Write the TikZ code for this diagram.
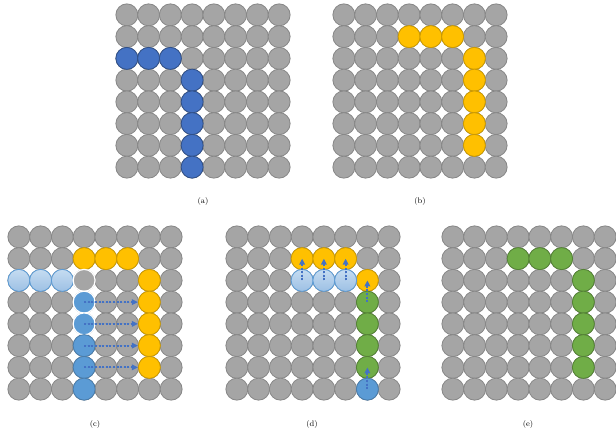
\documentclass[tikz,border=0pt]{standalone}
\usepackage{xcolor}
\usepackage{tikz}
\usetikzlibrary{arrows.meta,shapes.geometric}

\definecolor{dotgray}{HTML}{A5A5A5}
\definecolor{dotline}{HTML}{878787}
\definecolor{selblue}{HTML}{4472C4}
\definecolor{selorange}{HTML}{FFC000}
\definecolor{selgreen}{HTML}{70AD47}
\definecolor{midblue}{HTML}{5B9BD5}
\definecolor{lbtop}{HTML}{C5DCF1}
\definecolor{lbbot}{HTML}{9DC0E4}

% 8x8 grid of gray dots: name, left edge, top edge
\newcommand{\dotgrid}[3]{%
  \foreach \r in {1,...,8}
    \foreach \c in {1,...,8}
      \node[dot] (#1-\r-\c) at ({#2+(\c-0.5)*21.75},{#3+(\r-0.5)*21.75}) {};
}

\begin{document}
\begin{tikzpicture}[
  x=1pt, y=-1pt,
  dot/.style={circle, minimum size=22pt, inner sep=0pt, fill=dotgray, draw=dotline, line width=0.8pt},
  bluedot/.style={dot, fill=selblue, draw=selblue!70!black},
  orangedot/.style={dot, fill=selorange, draw=selorange!80!black},
  greendot/.style={dot, fill=selgreen, draw=selgreen!75!black},
  middot/.style={dot, fill=midblue, draw=midblue!80!black},
  lightdot/.style={dot, top color=lbtop, bottom color=lbbot, draw=midblue},
  caption/.style={font=\footnotesize, inner sep=0pt},
  flow/.style={-{Triangle[length=6pt,width=5.5pt]}, draw=selblue, fill=selblue, line width=2pt, dash pattern=on 2pt off 1.6pt}
]
\useasboundingbox (0,0) rectangle (616,434);

% (a)
\dotgrid{a}{116}{4}
\foreach \c in {1,2,3} \node[bluedot] (a-h\c) at (a-3-\c) {};
\foreach \r in {4,...,8} \node[bluedot] (a-v\r) at (a-\r-4) {};
\node[caption] (capa) at (203,201) {(a)};

% (b)
\dotgrid{b}{333}{4}
\foreach \c in {4,5,6} \node[orangedot] (b-h\c) at (b-2-\c) {};
\foreach \r in {3,...,7} \node[orangedot] (b-v\r) at (b-\r-7) {};
\node[caption] (capb) at (420,201) {(b)};

% (c)
\dotgrid{c}{8}{226}
\foreach \c in {4,5,6} \node[orangedot] (c-h\c) at (c-2-\c) {};
\foreach \r in {3,...,7} \node[orangedot] (c-v\r) at (c-\r-7) {};
\foreach \c in {1,2,3} \node[lightdot] (c-l\c) at (c-3-\c) {};
\node[dot, draw=white, line width=1.2pt] (c-gap) at (c-3-4) {};
\foreach \r in {4,5} \node[middot, draw=white, line width=1.2pt] (c-m\r) at (c-\r-4) {};
\foreach \r in {6,7,8} \node[middot] (c-m\r) at (c-\r-4) {};
\foreach \r in {4,...,7} \draw[flow] (c-m\r.center) -- (c-v\r.west);
\node[caption] (capc) at (95,424) {(c)};

% (d)
\dotgrid{d}{226}{226}
\foreach \c in {4,5,6} \node[orangedot] (d-h\c) at (d-2-\c) {};
\node[orangedot] (d-v3) at (d-3-7) {};
\foreach \c in {4,5,6} \node[lightdot] (d-l\c) at (d-3-\c) {};
\foreach \r in {4,...,7} \node[greendot] (d-g\r) at (d-\r-7) {};
\node[middot] (d-m8) at (d-8-7) {};
\foreach \c in {4,5,6} \draw[flow] (d-l\c.center) -- (d-h\c.center);
\draw[flow] (d-g4.center) -- (d-v3.center);
\draw[flow] (d-m8.center) -- (d-g7.center);
\node[caption] (capd) at (312,424) {(d)};

% (e)
\dotgrid{e}{442}{226}
\foreach \c in {4,5,6} \node[greendot] (e-h\c) at (e-2-\c) {};
\foreach \r in {3,...,7} \node[greendot] (e-v\r) at (e-\r-7) {};
\node[caption] (cape) at (528,424) {(e)};
\end{tikzpicture}
\end{document}
